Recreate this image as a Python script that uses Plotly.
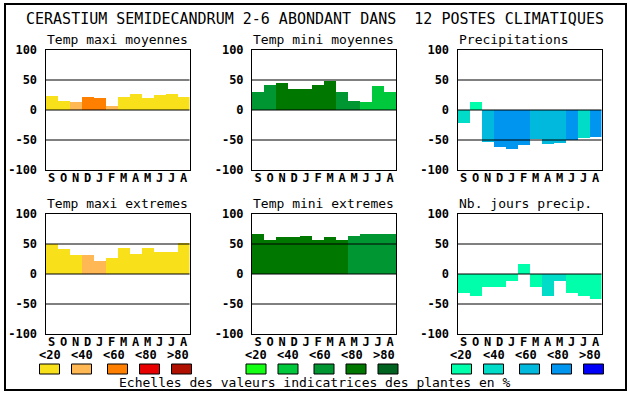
import plotly.graph_objects as go

W, H = 630, 394

# ---------------- data ----------------
months = ["S", "O", "N", "D", "J", "F", "M", "A", "M", "J", "J", "A"]
panel_titles = ["Temp maxi moyennes", "Temp mini moyennes", "Precipitations",
                "Temp maxi extremes", "Temp mini extremes", "Nb. jours precip."]
main_title = "CERASTIUM SEMIDECANDRUM 2-6 ABONDANT DANS  12 POSTES CLIMATIQUES"
footer = "Echelles des valeurs indicatrices des plantes en %"

tmax_moy = [23, 15, 13, 22, 20, 7, 22, 27, 20, 25, 27, 22]
tmax_moy_cls = [0, 0, 1, 2, 2, 1, 0, 0, 0, 0, 0, 0]
tmin_moy = [30, 42, 45, 35, 35, 42, 48, 30, 15, 13, 40, 30]
tmin_moy_cls = [2, 2, 3, 3, 3, 3, 3, 2, 2, 1, 1, 1]
precip = [-22, 13, -53, -61, -65, -58, -48, -57, -55, -50, -47, -45]
precip_cls = [1, 0, 2, 3, 3, 3, 2, 2, 2, 3, 1, 3]
tmax_ext = [50, 42, 32, 32, 22, 26, 44, 34, 44, 37, 37, 52]
tmax_ext_cls = [0, 0, 0, 1, 1, 0, 0, 0, 0, 0, 0, 0]
tmin_ext = [66, 57, 62, 62, 64, 57, 61, 57, 64, 66, 66, 67]
tmin_ext_cls = [3, 3, 3, 3, 3, 3, 3, 3, 2, 2, 2, 2]
njours = [-32, -36, -21, -21, -12, 16, -21, -36, -11, -31, -37, -41]
njours_cls = [0, 0, 0, 0, 0, 0, 0, 1, 1, 0, 0, 0]

legend_labels = ["<20", "<40", "<60", "<80", ">80"]
y_ticks = [-100, -50, 0, 50, 100]
grid_values = [-50, 0, 50]

warm = ["#F8E11B", "#FFB853", "#FF8000", "#E80000", "#B01000"]
greens = ["#14FF14", "#00C83C", "#009632", "#007800", "#006420"]
blues = ["#00FFAA", "#00DCC8", "#00B9DC", "#0096F0", "#0000F8"]

panels = [
    (tmax_moy, tmax_moy_cls, warm),
    (tmin_moy, tmin_moy_cls, greens),
    (precip, precip_cls, blues),
    (tmax_ext, tmax_ext_cls, warm),
    (tmin_ext, tmin_ext_cls, greens),
    (njours, njours_cls, blues),
]
palettes = [warm, greens, blues]

# ---------------- layout geometry (pixels) ----------------
col_x = [(45.5, 189.5), (252, 396), (457.5, 601.5)]
row_y = [(50, 170), (214, 334)]

MONO = "DejaVu Sans Mono"
LBL = 12


def px(x):
    return x / W


def py(y):
    return 1 - y / H


fig = go.Figure()
layout = dict(
    template="none",
    width=W, height=H, autosize=False,
    margin=dict(l=0, r=0, t=0, b=0, pad=0, autoexpand=False),
    paper_bgcolor="white", plot_bgcolor="white",
    showlegend=False, bargap=0,
    font=dict(family=MONO, color="black"),
)
shapes = []
annotations = []

for i, (vals, cls, pal) in enumerate(panels):
    r, c = divmod(i, 3)
    n = "" if i == 0 else str(i + 1)
    xref, yref = "x" + n, "y" + n
    x0, x1 = col_x[c]
    y0, y1 = row_y[r]
    fig.add_trace(go.Bar(
        x=list(range(len(months))), y=vals, width=1,
        marker=dict(color=[pal[k] for k in cls], line=dict(width=0)),
        xaxis=xref, yaxis=yref, hoverinfo="skip",
    ))
    layout["xaxis" + n] = dict(
        domain=[px(x0), px(x1)], anchor=yref, range=[-0.5, 11.5],
        automargin=False,
        tickvals=list(range(len(months))), ticktext=months,
        showline=True, mirror=True, linecolor="black", linewidth=1,
        showgrid=False, zeroline=False, ticks="", ticklabelstandoff=-3,
        tickfont=dict(family=MONO, size=LBL, weight="bold", color="black"),
        fixedrange=True,
    )
    layout["yaxis" + n] = dict(
        domain=[py(y1), py(y0)], anchor=xref, range=[-100, 100],
        automargin=False,
        tickvals=y_ticks, ticktext=[str(v) for v in y_ticks],
        showline=True, mirror=True, linecolor="black", linewidth=1,
        showgrid=False, zeroline=False, ticks="outside", ticklen=5,
        tickcolor="rgba(0,0,0,0)",
        tickfont=dict(family=MONO, size=LBL, weight="bold", color="black"),
        fixedrange=True,
    )
    for g in grid_values:
        shapes.append(dict(type="line", xref=xref + " domain", yref=yref,
                           x0=0, x1=1, y0=g, y1=g, layer="above",
                           line=dict(color="black", width=1)))
    annotations.append(dict(
        text=panel_titles[i], xref="paper", yref="paper",
        x=px(x0 - 1), y=py(y0 - 11), xanchor="left", yanchor="middle",
        showarrow=False, font=dict(family=MONO, size=13, color="black"),
    ))

# legends (one per column)
box_off = [0, 32, 68, 100, 132]
lab_off = [0, 32, 64, 96, 128]
for c, pal in enumerate(palettes):
    left = col_x[c][0] - 6
    for k in range(5):
        bx = left + box_off[k]
        shapes.append(dict(type="rect", xref="paper", yref="paper",
                           x0=px(bx), x1=px(bx + 20), y0=py(374), y1=py(364),
                           fillcolor=pal[k], line=dict(color="black", width=1)))
        annotations.append(dict(
            text=legend_labels[k], xref="paper", yref="paper",
            x=px(left + lab_off[k] + 10), y=py(354.5), xanchor="center",
            yanchor="middle", showarrow=False,
            font=dict(family=MONO, size=LBL, weight="bold", color="black"),
        ))

annotations.append(dict(
    text=main_title, xref="paper", yref="paper", x=px(314.5), y=py(18.5),
    xanchor="center", yanchor="middle", showarrow=False,
    font=dict(family=MONO, size=15, color="black"),
))
annotations.append(dict(
    text=footer, xref="paper", yref="paper", x=px(314.5), y=py(382.5),
    xanchor="center", yanchor="middle", showarrow=False,
    font=dict(family=MONO, size=13, color="black"),
))

# outer frame
shapes.append(dict(type="rect", xref="paper", yref="paper",
                   x0=px(5), x1=px(626), y0=py(390), y1=py(4),
                   line=dict(color="black", width=2), layer="above"))

layout["shapes"] = shapes
layout["annotations"] = annotations
fig.update_layout(**layout)

post = ("document.documentElement.style.margin='0';"
        "document.body.style.margin='0';document.body.style.padding='0';"
        "document.body.style.overflow='hidden';"
        "var d=document.getElementById('{plot_id}');"
        "d.style.position='absolute';d.style.left='0px';d.style.top='0px';")
fig.write_html("out.html", post_script=post,
               config={"displayModeBar": False, "responsive": False,
                       "staticPlot": True})
